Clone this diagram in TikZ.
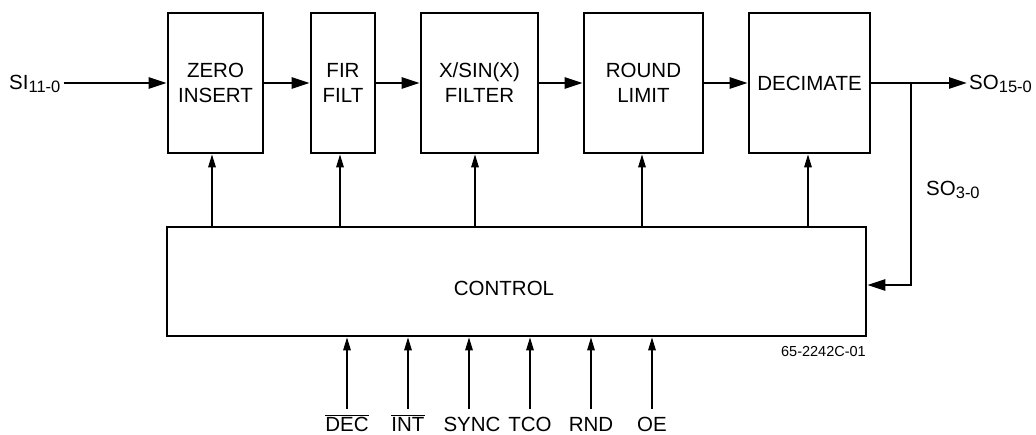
\documentclass[tikz,border=0pt]{standalone}
\usepackage{fontspec}
\setmainfont{Liberation Sans}
\usetikzlibrary{arrows.meta}
\newcommand\mfnt{\fontsize{20.5}{25}\selectfont}
\newcommand\smfnt{\fontsize{14.5}{16}\selectfont}
\newcommand\sbs[1]{\raisebox{-3.5pt}{\fontsize{16.5}{17}\selectfont #1}}
\begin{document}
\begin{tikzpicture}[x=1pt,y=-1pt,
  blk/.style={draw, line width=2.7pt, minimum height=140pt, inner sep=0pt, align=center, font=\mfnt},
  thk/.style={line width=2.7pt},
  thn/.style={line width=1.4pt},
  bigtip/.style={-{Triangle[length=18pt,width=11pt]}},
  smtip/.style={-{Triangle[length=13pt,width=7.5pt]}},
  lbl/.style={font=\mfnt, inner sep=0pt, text height=18pt, text depth=0pt, anchor=base},
  txt/.style={font=\mfnt, inner sep=0pt}
]
\useasboundingbox (0,0) rectangle (1036,435);

% blocks
\node[blk, minimum width=95pt]  (zero) at (215.5,83) {ZERO\\INSERT};
\node[blk, minimum width=64pt]  (fir)  at (343,83)   {FIR\\FILT};
\node[blk, minimum width=117pt] (xsin) at (479.5,83) {X/SIN(X)\\FILTER};
\node[blk, minimum width=119pt] (rnd)  at (643.5,83) {ROUND\\LIMIT};
\node[blk, minimum width=121pt] (deci) at (809.5,83) {DECIMATE};
\node[draw, line width=2.7pt, minimum width=699pt, minimum height=109pt, inner sep=0pt] (ctrl) at (516.5,281.5) {};
\node[txt] (ctrltext) at (504,288) {CONTROL};
\node[font=\smfnt, inner sep=0pt, anchor=north east] (code) at (866,346) {65-2242C-01};

% signal labels
\node[txt, anchor=west] (si)  at (9,84)  {SI\sbs{11-0}};
\node[txt, anchor=west] (so)  at (969,84) {SO\sbs{15-0}};
\node[txt, anchor=west] (so3) at (926,190) {SO\sbs{3-0}};

% data path
\draw[thk, bigtip] ([xshift=3pt]si.east |- zero.west) -- (zero.west);
\draw[thk, bigtip] (zero) -- (fir);
\draw[thk, bigtip] (fir) -- (xsin);
\draw[thk, bigtip] (xsin) -- (rnd);
\draw[thk, bigtip] (rnd) -- (deci);
\draw[thk, bigtip] (deci.east) -- ([xshift=-2pt]so.west |- deci.east);
\coordinate (jn) at (911,83);
\draw[thk, bigtip] (jn) |- ([yshift=-3.5pt]ctrl.east);

% control to blocks
\draw[thn, smtip] ([xshift=-3.5pt]zero.south |- ctrl.north) -- ([xshift=-3.5pt]zero.south);
\draw[thn, smtip] ([xshift=-3pt]fir.south |- ctrl.north) -- ([xshift=-3pt]fir.south);
\draw[thn, smtip] ([xshift=-4.5pt]xsin.south |- ctrl.north) -- ([xshift=-4.5pt]xsin.south);
\draw[thn, smtip] ([xshift=-1.5pt]rnd.south |- ctrl.north) -- ([xshift=-1.5pt]rnd.south);
\draw[thn, smtip] ([xshift=-1.5pt]deci.south |- ctrl.north) -- ([xshift=-1.5pt]deci.south);

% inputs
\node[lbl] (ldec)  at (347,431) {$\overline{\mbox{DEC}}$};
\node[lbl] (lint)  at (408,431) {$\overline{\mbox{INT}}$};
\node[lbl] (lsync) at (472,431) {SYNC};
\node[lbl] (ltco)  at (530,431) {TCO};
\node[lbl] (lrnd)  at (591,431) {RND};
\node[lbl] (loe)   at (652,431) {OE};
\foreach \n in {ldec,lint,ltco,lrnd,loe}{
  \draw[thn, smtip] ([yshift=4pt]\n.north) -- (\n.north |- ctrl.south);
}
\draw[thn, smtip] ([yshift=4pt,xshift=-3pt]lsync.north) -- ([xshift=-3pt]lsync.north |- ctrl.south);
\end{tikzpicture}
\end{document}
